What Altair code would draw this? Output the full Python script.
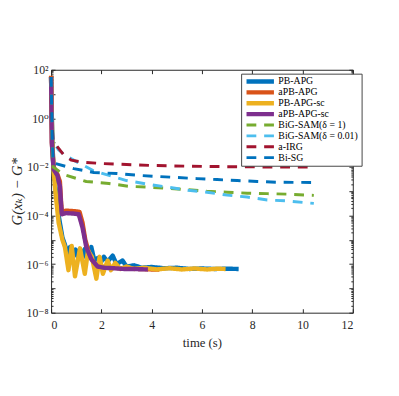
import altair as alt
import pandas as pd

# ---- data (time in s, values read as log10 exponents) ----
series_names = ["PB-APG", "aPB-APG", "PB-APG-sc", "aPB-APG-sc",
                "BiG-SAM(δ = 1)", "BiG-SAM(δ = 0.01)", "a-IRG", "Bi-SG"]
colors = ["#0072BD", "#D95319", "#EDB120", "#7E2F8E",
          "#77AC30", "#4DBEEE", "#A2142F", "#0072BD"]

t_pb_apg = [0, 0.03, 0.08, 0.15, 0.3, 0.45, 0.55, 0.65, 0.75, 0.85, 0.97, 1.06, 1.15, 1.25, 1.34, 1.45, 1.6, 1.72,
            1.85, 1.97, 2.1, 2.25, 2.45, 2.6, 2.84, 3.0, 3.3, 3.6, 4.0, 4.5, 5.0, 5.5, 6.0, 6.5, 7.0, 7.46]
e_pb_apg = [1.7, 0.0, -1.8, -2.6, -4.0, -4.9, -5.2, -5.6, -5.3, -5.75, -5.4, -5.7, -5.38, -5.75, -5.38, -5.7, -5.3,
            -5.85, -5.75, -5.95, -5.7, -5.9, -5.65, -6.0, -5.85, -6.1, -6.05, -6.15, -6.12, -6.17, -6.15, -6.2,
            -6.18, -6.2, -6.19, -6.2]

t_apb_apg = [0, 0.03, 0.1, 0.25, 0.35, 0.4, 0.43, 0.6, 0.9, 1.13, 1.25, 1.36, 1.55, 1.79, 2.0, 2.33, 2.7, 3.0,
             3.5, 4.0, 4.3]
e_apb_apg = [1.75, -1.0, -2.0, -2.3, -2.6, -3.5, -3.85, -3.8, -3.82, -3.85, -4.3, -5.0, -5.7, -6.05, -6.1, -6.14,
             -6.17, -6.18, -6.2, -6.22, -6.22]

t_pb_apg_sc = [0, 0.02, 0.05, 0.1, 0.2, 0.3, 0.45, 0.55, 0.69, 0.82, 0.95, 1.15, 1.34, 1.47, 1.62, 1.80, 1.93,
               2.06, 2.25, 2.38, 2.55, 2.75, 3.0, 3.3, 3.7, 4.2, 4.7, 5.2, 5.7, 6.2, 6.6, 6.94]
e_pb_apg_sc = [1.7, 0.5, -1.0, -2.2, -3.3, -4.3, -5.0, -5.3, -6.25, -5.25, -6.5, -5.35, -6.4, -5.45, -5.7, -6.6,
               -5.7, -6.4, -5.85, -6.25, -5.95, -6.2, -6.1, -6.2, -6.15, -6.22, -6.17, -6.22, -6.18, -6.22,
               -6.19, -6.2]

t_apb_apg_sc = [0, 0.03, 0.1, 0.25, 0.35, 0.4, 0.43, 0.6, 0.9, 1.1, 1.25, 1.4, 1.6, 1.85, 2.1, 2.5, 2.9, 3.2,
                3.5, 3.85]
e_apb_apg_sc = [1.7, -1.0, -2.1, -2.35, -2.8, -3.6, -3.95, -3.9, -3.92, -3.95, -4.5, -5.3, -5.8, -6.1, -6.15,
                -6.17, -6.2, -6.2, -6.21, -6.22]

t_bigsam1 = [0, 0.03, 0.08, 0.5, 1.4, 2.3, 3.1, 4.0, 4.7, 6.2, 7.0, 7.8, 8.6, 9.4, 10.2, 10.45]
e_bigsam1 = [1.7, -0.5, -2.0, -2.31, -2.6, -2.68, -2.8, -2.84, -2.88, -3.0, -3.04, -3.08, -3.1, -3.12, -3.16,
             -3.17]

t_bigsam001 = [0, 0.03, 0.1, 0.3, 0.6, 0.95, 1.67, 3.0, 3.9, 5.45, 6.2, 7.0, 7.8, 8.6, 9.4, 10.2, 10.45]
e_bigsam001 = [1.7, -0.2, -1.0, -1.3, -1.55, -1.75, -2.15, -2.56, -2.72, -2.96, -3.04, -3.16, -3.24, -3.36,
               -3.40, -3.48, -3.5]

t_airg = [0, 0.02, 0.08, 0.2, 0.5, 0.8, 1.2, 2.0, 3.0, 4.0, 5.5, 7.0, 8.5, 10.45]
e_airg = [1.7, 0.0, -0.9, -1.1, -1.5, -1.72, -1.8, -1.86, -1.9, -1.94, -1.97, -1.99, -2.0, -2.0]

t_bisg = [0, 0.04, 0.08, 0.15, 0.9, 1.7, 2.6, 3.5, 4.9, 5.8, 6.6, 7.4, 8.2, 9.0, 10.4]
e_bisg = [1.7, -0.5, -1.8, -1.85, -2.07, -2.23, -2.27, -2.35, -2.43, -2.48, -2.52, -2.56, -2.6, -2.63, -2.64]

x_ticks = [0, 2, 4, 6, 8, 10, 12]
y_label_ticks = [1e-8, 1e-6, 1e-4, 1e-2, 1e0, 1e2]
y_all_ticks = [m * 10.0 ** k for k in range(-8, 2) for m in range(1, 10)] + [1e2]

all_t = [t_pb_apg, t_apb_apg, t_pb_apg_sc, t_apb_apg_sc, t_bigsam1, t_bigsam001, t_airg, t_bisg]
all_e = [e_pb_apg, e_apb_apg, e_pb_apg_sc, e_apb_apg_sc, e_bigsam1, e_bigsam001, e_airg, e_bisg]

rows = []
for name, ts, es in zip(series_names, all_t, all_e):
    for i, (t, e) in enumerate(zip(ts, es)):
        rows.append({"series": name, "t": t, "v": 10.0 ** e, "i": i})
df = pd.DataFrame(rows)

# ---- styling ----
W, H = 308, 248
FONT = "Liberation Serif, DejaVu Serif"
AX = "#262626"
dashes = [[1, 0]] * 4 + [[10, 8]] * 4
widths = [4.5] * 4 + [3] * 4

major_test = "abs(log(datum.value)/LN10 - round(log(datum.value)/LN10)) < 0.01"
sup_expr = ("datum.value >= 50 ? '10²' : datum.value >= 0.5 ? '10⁰' : datum.value >= 0.005 ? '10⁻²' : "
            "datum.value >= 5e-5 ? '10⁻⁴' : datum.value >= 5e-7 ? '10⁻⁶' : '10⁻⁸'")

x_axes = [
    alt.Axis(orient="bottom", values=x_ticks, ticks=False, tickSize=0, domain=False, labelFont=FONT,
             labelFontSize=12, labelColor=AX, labelPadding=7, title="time (s)", titleFont=FONT,
             titleFontSize=13, titleFontWeight="normal", titleColor=AX, titleY=31, titleBaseline="middle"),
    alt.Axis(orient="top", offset=-H, values=x_ticks, labels=False, domain=False, ticks=True, tickSize=4,
             tickColor=AX, title=None),
    alt.Axis(orient="bottom", offset=-H, values=x_ticks, labels=False, domain=False, ticks=True, tickSize=4,
             tickColor=AX, title=None),
]
y_axes = [
    alt.Axis(orient="left", values=y_label_ticks, ticks=False, tickSize=0, domain=False, labelFont=FONT,
             labelFontSize=12, labelColor=AX, labelPadding=3, labelExpr=sup_expr,
             title="G(xₖ) − G*", titleFont=FONT, titleFontSize=15, titleFontWeight="normal",
             titleFontStyle="italic", titleColor=AX, titleX=-35, titleY=H / 2, titleBaseline="middle",
             titleAngle=270),
    alt.Axis(orient="right", offset=-W, values=y_all_ticks, labels=False, domain=False, ticks=True,
             tickSize={"condition": {"test": major_test, "value": 4}, "value": 2}, tickColor=AX, title=None),
    alt.Axis(orient="left", offset=-W, values=y_all_ticks, labels=False, domain=False, ticks=True,
             tickSize={"condition": {"test": major_test, "value": 4}, "value": 2}, tickColor=AX, title=None),
]

legend = alt.Legend(title=None, orient="none", legendX=194, legendY=4, padding=3,
                    fillColor="white", strokeColor="#444444", labelFont=FONT, labelFontSize=10,
                    labelColor="#000000", symbolType="M-1,0H8.33", symbolSize=36, labelOffset=24,
                    clipHeight=10, rowPadding=1.1, labelLimit=200)

layers = []
for k, name in enumerate(series_names):
    xa = x_axes[k] if k < 3 else None
    ya = y_axes[k] if k < 3 else None
    layer = alt.Chart(df).transform_filter(alt.datum.series == name).mark_line(
        strokeJoin="round", clip=False
    ).encode(
        x=alt.X("t:Q", scale=alt.Scale(domain=[0, 12], nice=False, zero=False), axis=xa),
        y=alt.Y("v:Q", scale=alt.Scale(type="log", domain=[1e-8, 1e2], nice=False), axis=ya),
        order=alt.Order("i:Q"),
        color=alt.Color("series:N", scale=alt.Scale(domain=series_names, range=colors), legend=legend),
        strokeDash=alt.StrokeDash("series:N", scale=alt.Scale(domain=series_names, range=dashes),
                                  legend=alt.Legend(title=None)),
        strokeWidth=alt.StrokeWidth("series:N", scale=alt.Scale(type="ordinal", domain=series_names,
                                                                range=widths),
                                    legend=alt.Legend(title=None)),
    )
    layers.append(layer)

chart = alt.layer(*layers).resolve_scale(x="independent", y="independent").properties(
    width=W, height=H,
    autosize=alt.AutoSizeParams(type="none"),
    padding={"left": 44, "top": 59, "right": 39, "bottom": 81},
).configure_axis(grid=False).configure_view(stroke=AX, strokeWidth=1)

chart.save("out.html", embed_options={"renderer": "svg", "actions": False})
